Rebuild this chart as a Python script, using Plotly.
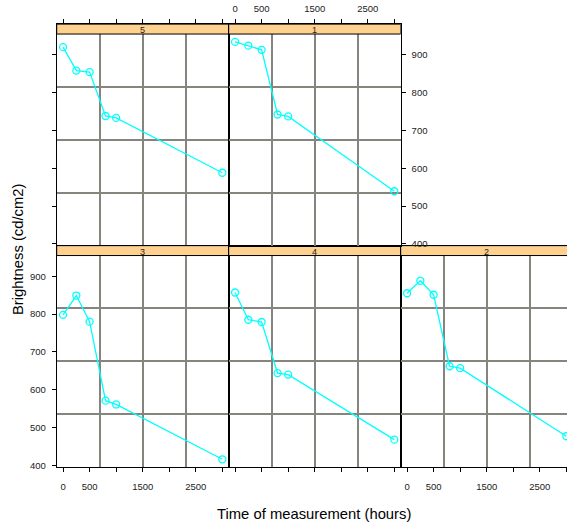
import plotly.graph_objects as go

# ---- data ----
hours = [0, 250, 500, 800, 1000, 3000]
panels = ["5", "3", "4", "2", "1"]
brightness = {
    "5": [920, 858, 854, 738, 733, 588],
    "1": [934, 924, 913, 742, 737, 539],
    "3": [798, 849, 780, 571, 561, 416],
    "4": [857, 785, 779, 644, 640, 468],
    "2": [855, 888, 851, 662, 657, 477],
}
x_tickvals = [0, 500, 1000, 1500, 2000, 2500, 3000]
x_ticktext = ["0", "500", "", "1500", "", "2500", ""]
y_tickvals = [400, 500, 600, 700, 800, 900]

# ---- layout geometry (pixels) ----
W, H = 567, 528
cols = [56.7, 228.7, 400.7, 572.7]
rows = {  # (strip top, panel top, panel bottom)
    "top": (24.3, 34.3, 247.5),
    "bot": (247.5, 257.7, 470.7),
}
all_x = list(hours)
all_y = [v for k in panels for v in brightness[k]]
xpad = 0.04 * (max(all_x) - min(all_x))
ypad = 0.04 * (max(all_y) - min(all_y))
xlo, xhi = min(all_x) - xpad, max(all_x) + xpad
ylo, yhi = min(all_y) - ypad, max(all_y) + ypad
panel_h = rows["top"][2] - rows["top"][1]
strip_h = rows["top"][1] - rows["top"][0]
yhi_ext = yhi + (yhi - ylo) * strip_h / panel_h
x_minor = [xlo + k * (xhi - xlo) / 4 for k in (1, 2, 3)]
y_minor = [ylo + k * (yhi - ylo) / 4 for k in (1, 2, 3)]

place = {"5": ("top", 0), "1": ("top", 1), "3": ("bot", 0), "4": ("bot", 1), "2": ("bot", 2)}
# (x side, x ticks, x labels, y side, y ticks, y labels, y mirror)
style = {
    "5": ("top", True, False, "left", True, False, True),
    "1": ("top", True, True, "right", True, True, True),
    "3": ("bottom", True, True, "left", True, True, True),
    "4": ("bottom", True, False, "left", False, False, True),
    "2": ("bottom", True, True, "left", False, False, False),
}

fig = go.Figure()
tickfont = dict(family="Liberation Sans", size=9.5, color="#222")
gridcol = "#85857d"
shapes, annotations = [], []

for i, name in enumerate(panels, start=1):
    row, col = place[name]
    st, pt, pb = rows[row]
    x0 = cols[col] / W
    x1 = min(cols[col + 1] / W, 1.0)
    dom_y = [(H - pb) / H, (H - st) / H]
    xr_hi = xhi
    if cols[col + 1] > W:
        xr_hi = xlo + (xhi - xlo) * (W - cols[col]) / (cols[col + 1] - cols[col])
    xs, xt, xl, ys, yt, yl, ym = style[name]
    xa = "xaxis" if i == 1 else f"xaxis{i}"
    ya = "yaxis" if i == 1 else f"yaxis{i}"
    xref = "x" if i == 1 else f"x{i}"
    yref = "y" if i == 1 else f"y{i}"
    fig.add_trace(go.Scatter(
        x=hours, y=brightness[name], mode="lines+markers",
        line=dict(color="#00FFFF", width=1.3),
        marker=dict(symbol="circle-open", size=7, color="#00FFFF", line=dict(width=1.3)),
        xaxis=xref, yaxis=yref, showlegend=False, cliponaxis=False,
    ))
    fig.layout[xa] = dict(
        domain=[x0, x1], range=[xlo, xr_hi], anchor=yref, side=xs,
        tickmode="array", tickvals=x_tickvals, ticktext=x_ticktext,
        ticks="outside" if xt else "", ticklen=4, tickwidth=1, tickcolor="black",
        showticklabels=xl, tickfont=tickfont, showgrid=False, zeroline=False,
        ticklabelstandoff=6 if xs == "bottom" else 3,
        showline=True, linecolor="black", linewidth=1, mirror=True,
        minor=dict(tickmode="array", tickvals=x_minor, showgrid=True,
                   gridcolor=gridcol, gridwidth=1.5, ticks=""),
        fixedrange=True,
    )
    fig.layout[ya] = dict(
        domain=dom_y, range=[ylo, yhi_ext], anchor=xref, side=ys,
        tickmode="array", tickvals=y_tickvals,
        ticks="outside" if yt else "", ticklen=4, tickwidth=1, tickcolor="black",
        showticklabels=yl, tickfont=tickfont, showgrid=False, zeroline=False,
        ticklabelstandoff=4,
        showline=True, linecolor="black", linewidth=1, mirror=ym,
        minor=dict(tickmode="array", tickvals=y_minor, showgrid=True,
                   gridcolor=gridcol, gridwidth=1.5, ticks=""),
        fixedrange=True,
    )
    # strip (between gridlines and traces, inside the subplot)
    shapes.append(dict(type="rect", xref=xref, yref=yref,
                       x0=xlo, x1=xhi, y0=yhi, y1=yhi_ext,
                       fillcolor="#FFD18F", line=dict(color="black", width=1),
                       layer="between"))
    annotations.append(dict(text=name, xref="paper", yref="paper",
                            x=(cols[col] + cols[col + 1]) / 2 / W,
                            y=(H - (st + pt) / 2 - 1) / H, showarrow=False,
                            xanchor="center", yanchor="middle",
                            font=dict(family="Liberation Sans", size=9, color="#222")))

annotations.append(dict(text="Brightness (cd/cm2)", xref="paper", yref="paper",
                        x=18 / W, y=(H - 251) / H, textangle=-90, showarrow=False,
                        xanchor="center", yanchor="middle",
                        font=dict(family="Liberation Sans", size=14.8, color="black")))
annotations.append(dict(text="Time of measurement (hours)", xref="paper", yref="paper",
                        x=313.7 / W, y=(H - 517.5) / H, showarrow=False,
                        xanchor="center", yanchor="middle",
                        font=dict(family="Liberation Sans", size=14.8, color="black")))

fig.update_layout(
    width=W, height=H, margin=dict(l=0, r=0, t=0, b=0),
    paper_bgcolor="white", plot_bgcolor="white",
    shapes=shapes, annotations=annotations,
)
fig.write_html("out.html")
